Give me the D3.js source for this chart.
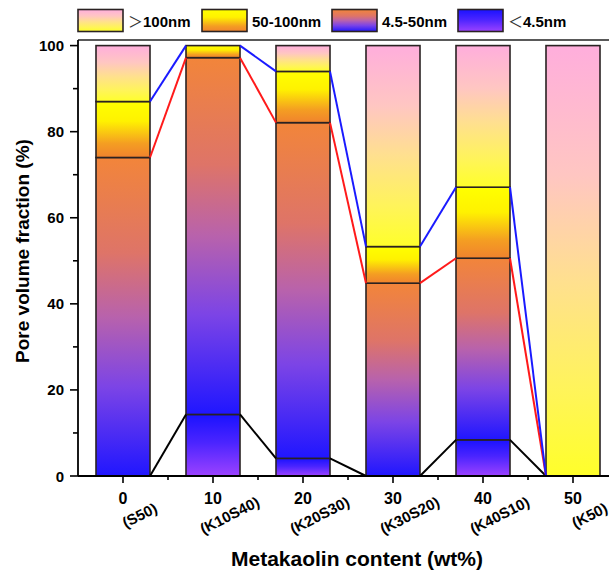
<!DOCTYPE html>
<html>
<head>
<meta charset="utf-8">
<script src="https://cdn.jsdelivr.net/npm/d3@7/dist/d3.min.js"></script>
<style>
  html, body { margin: 0; padding: 0; background: #fff; }
  svg { display: block; font-family: Arial, "Liberation Sans", sans-serif; }
</style>
</head>
<body>
<svg id="chart" width="609" height="574"></svg>
<script>
// Metakaolin content (wt%) and mix names
const contents = [0, 10, 20, 30, 40, 50];
const mixNames = ["(S50)", "(K10S40)", "(K20S30)", "(K30S20)", "(K40S10)", "(K50)"];

// Pore volume fraction (%) by pore size class
const poreLt4_5 = [0, 14.3, 4.1, 0, 8.4, 0];
const pore4_5to50 = [74, 82.9, 78, 44.8, 42.2, 0];
const pore50to100 = [13, 2.8, 11.9, 8.5, 16.5, 0];
const poreGt100 = [13, 0, 6, 46.7, 32.9, 100];

const seriesKeys = ["lt", "mid", "big", "huge"];
const legendLabels = [
  { key: "huge", sym: "＞", text: "100nm" },
  { key: "big", sym: "", text: "50-100nm" },
  { key: "mid", sym: "", text: "4.5-50nm" },
  { key: "lt", sym: "＜", text: "4.5nm" }
];
const yTicks = [0, 20, 40, 60, 80, 100];

const rows = contents.map((c, i) => ({
  c, lt: poreLt4_5[i], mid: pore4_5to50[i], big: pore50to100[i], huge: poreGt100[i]
}));
const stacked = d3.stack().keys(seriesKeys)(rows);

const svg = d3.select("#chart");
const x = d3.scaleLinear().domain([-5, 55]).range([78, 618]);
const y = d3.scaleLinear().domain([0, 101.3]).range([476, 40]);
const halfW = 3;

// gradient fills, top to bottom of each segment
const gradStops = {
  huge: [[0, "#ffaedc"], [0.3, "#ffc6c2"], [0.55, "#ffe08e"], [0.8, "#fff45a"], [1, "#ffff2a"]],
  big: [[0, "#ffff00"], [0.35, "#fff200"], [0.75, "#f49e22"], [1, "#f0822e"]],
  mid: [[0, "#f2853a"], [0.3, "#de7468"], [0.5, "#b862ac"], [0.72, "#7c44e6"], [1, "#2016ff"]],
  lt: [[0, "#1a12ff"], [0.45, "#4a24ff"], [1, "#9c42ff"]]
};
const defs = svg.append("defs");
Object.entries(gradStops).forEach(([k, stops]) => {
  const g = defs.append("linearGradient").attr("id", "g-" + k)
    .attr("x1", 0).attr("y1", 0).attr("x2", 0).attr("y2", 1);
  stops.forEach(([o, c]) => g.append("stop").attr("offset", o).attr("stop-color", c));
});

// stacked bars
stacked.forEach(layer => {
  svg.append("g").selectAll("rect")
    .data(layer.filter(d => d[1] - d[0] > 0))
    .join("rect")
    .attr("x", d => x(d.data.c - halfW))
    .attr("width", d => x(d.data.c + halfW) - x(d.data.c - halfW))
    .attr("y", d => y(d[1]))
    .attr("height", d => y(d[0]) - y(d[1]))
    .attr("fill", "url(#g-" + layer.key + ")")
    .attr("stroke", "#2a2222")
    .attr("stroke-width", 1.6);
});

// connector lines between cumulative boundaries of neighbouring bars
const connectorColors = { lt: "#000000", mid: "#ff1a1a", big: "#1a1aff" };
stacked.slice(0, 3).forEach(layer => {
  const pts = [];
  layer.forEach((d, i) => {
    if (i > 0) pts.push([x(d.data.c - halfW), y(d[1])]);
    if (i < layer.length - 1) pts.push([x(d.data.c + halfW), y(d[1])]);
  });
  for (let i = 0; i < pts.length; i += 2) {
    svg.append("path")
      .attr("d", d3.line()([pts[i], pts[i + 1]]))
      .attr("fill", "none")
      .attr("stroke", connectorColors[layer.key])
      .attr("stroke-width", 2);
  }
});

// frame top
svg.append("line").attr("x1", x(-5)).attr("x2", x(55)).attr("y1", y(101.3)).attr("y2", y(101.3))
  .attr("stroke", "#222").attr("stroke-width", 1.6);

// y axis
const yAxis = svg.append("g").attr("transform", `translate(${x(-5)},0)`);
yAxis.append("line").attr("y1", y(0)).attr("y2", y(101.3)).attr("stroke", "#000").attr("stroke-width", 1.8);
d3.range(0, 101, 10).forEach(v => {
  const major = v % 20 === 0;
  yAxis.append("line").attr("x1", major ? -8 : -5).attr("x2", 0)
    .attr("y1", y(v)).attr("y2", y(v)).attr("stroke", "#000").attr("stroke-width", 1.6);
});
yAxis.selectAll("text.tl").data(yTicks).join("text")
  .attr("x", -14).attr("y", d => y(d) + 5.5)
  .attr("text-anchor", "end").attr("font-size", 15).attr("font-weight", "bold")
  .text(d => d);

// x axis
const xAxis = svg.append("g");
xAxis.append("line").attr("x1", x(-5)).attr("x2", x(55)).attr("y1", y(0)).attr("y2", y(0))
  .attr("stroke", "#000").attr("stroke-width", 1.8);
d3.range(0, 56, 5).forEach(v => {
  const major = v % 10 === 0;
  xAxis.append("line").attr("x1", x(v)).attr("x2", x(v))
    .attr("y1", y(0)).attr("y2", y(0) + (major ? 7 : 4))
    .attr("stroke", "#000").attr("stroke-width", 1.6);
});
contents.forEach((c, i) => {
  xAxis.append("text").attr("x", x(c)).attr("y", 504)
    .attr("text-anchor", "middle").attr("font-size", 16).attr("font-weight", "bold")
    .text(c);
  xAxis.append("text")
    .attr("transform", `translate(${x(c) + 19},${520}) rotate(-27)`)
    .attr("text-anchor", "middle").attr("font-size", 15).attr("font-weight", "bold")
    .text(mixNames[i]);
});

// axis titles
svg.append("text").attr("x", 357).attr("y", 566).attr("text-anchor", "middle")
  .attr("font-size", 21).attr("font-weight", "bold").text("Metakaolin content (wt%)");
svg.append("text").attr("transform", "translate(29,251) rotate(-90)").attr("text-anchor", "middle")
  .attr("font-size", 19).attr("font-weight", "bold").text("Pore volume fraction (%)");

// legend
const legendX = [78, 202, 332, 458];
const legend = svg.append("g");
legendLabels.forEach((l, i) => {
  legend.append("rect").attr("x", legendX[i]).attr("y", 9.5).attr("width", 45).attr("height", 22)
    .attr("fill", "url(#g-" + l.key + ")").attr("stroke", "#2a2222").attr("stroke-width", 1.6);
  const t = legend.append("text").attr("x", legendX[i] + 50).attr("y", 26.5)
    .attr("font-size", 15).attr("font-weight", "bold");
  if (l.sym) t.append("tspan").attr("font-weight", "normal").attr("fill", "#333")
    .attr("font-family", "'Noto Sans CJK SC', sans-serif").text(l.sym);
  t.append("tspan").text(l.text);
});
</script>
</body>
</html>
